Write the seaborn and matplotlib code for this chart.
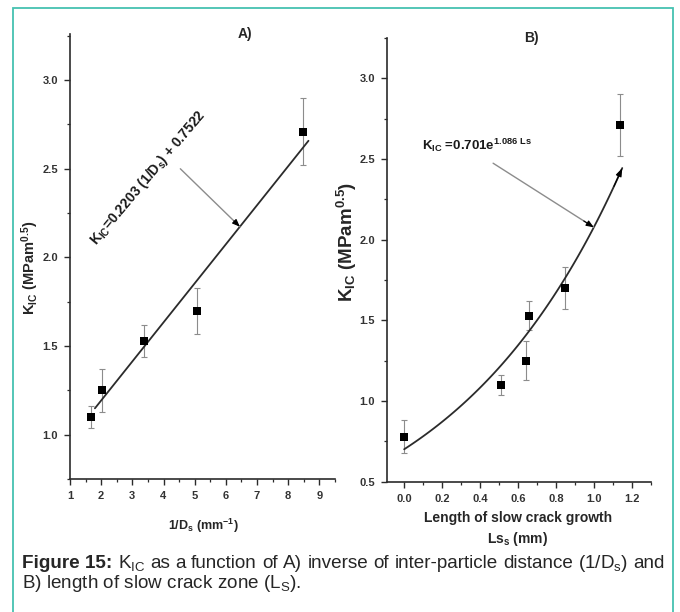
import numpy as np
import matplotlib
matplotlib.use("Agg")
import matplotlib.pyplot as plt
import seaborn as sns
from matplotlib.ticker import MultipleLocator, FormatStrFormatter
from matplotlib.patches import Rectangle

# Panel A: fracture toughness vs inverse inter-particle distance
inv_ds = [1.67, 2.02, 3.36, 5.09, 8.48]
kic_a = [1.10, 1.25, 1.53, 1.70, 2.71]
err_a = [0.06, 0.12, 0.09, 0.13, 0.19]

# Panel B: fracture toughness vs length of slow crack growth
ls = [0.0, 0.51, 0.64, 0.66, 0.85, 1.14]
kic_b = [0.78, 1.10, 1.25, 1.53, 1.70, 2.71]
err_b = [0.10, 0.06, 0.12, 0.09, 0.13, 0.19]

# Fitted models
lin_slope, lin_icpt = 0.2203, 0.7522
exp_pre, exp_rate = 0.701, 1.086

sns.set_style("ticks")
plt.rcParams["font.family"] = ["Liberation Sans", "DejaVu Sans"]
plt.rcParams["mathtext.default"] = "regular"

INK = "#2b2b2b"
ERR = "#8c8c8c"
TEAL = "#45c2b1"

fig = plt.figure(figsize=(6.8, 6.12), dpi=100)
axA = fig.add_axes([0.1029, 0.2173, 0.3897, 0.7271])
axB = fig.add_axes([0.5687, 0.2129, 0.3882, 0.7250])


def style_axis(ax, xmaj, xmin, xfmt):
    sns.despine(ax=ax)
    for side in ("left", "bottom"):
        ax.spines[side].set_linewidth(1.2)
        ax.spines[side].set_color(INK)
    ax.xaxis.set_major_locator(MultipleLocator(xmaj))
    ax.xaxis.set_minor_locator(MultipleLocator(xmin))
    ax.xaxis.set_major_formatter(FormatStrFormatter(xfmt))
    ax.yaxis.set_major_locator(MultipleLocator(0.5))
    ax.yaxis.set_minor_locator(MultipleLocator(0.25))
    ax.yaxis.set_major_formatter(FormatStrFormatter("%.1f"))
    ax.tick_params(which="major", direction="out", length=4.5, width=1,
                   colors=INK, labelsize=8, pad=4)
    ax.tick_params(which="minor", direction="out", length=2.5, width=0.9,
                   colors=INK)
    for lab in ax.get_xticklabels() + ax.get_yticklabels():
        lab.set_fontweight("bold")
        lab.set_color("#333333")


def draw_points(ax, x, y, e):
    ax.errorbar(x, y, yerr=e, fmt="none", ecolor=ERR, elinewidth=0.8,
                capsize=2.5, capthick=0.8, zorder=2)
    sns.scatterplot(x=x, y=y, marker="s", color="black", s=26,
                    edgecolor="black", linewidth=0, ax=ax, zorder=3)


def pointer(ax, start, tip):
    ax.annotate("", xy=tip, xytext=start,
                arrowprops=dict(arrowstyle="-", color=ERR, lw=1.0,
                                shrinkA=0, shrinkB=0))
    head_from = (start[0] + 0.9 * (tip[0] - start[0]),
                 start[1] + 0.9 * (tip[1] - start[1]))
    ax.annotate("", xy=tip, xytext=head_from,
                arrowprops=dict(arrowstyle="-|>,head_length=0.45,head_width=0.18",
                                color="black", lw=0.8, shrinkA=0, shrinkB=0))


# ---- Panel A ----
draw_points(axA, inv_ds, kic_a, err_a)
xa = np.linspace(1.8, 8.65, 50)
sns.lineplot(x=xa, y=lin_slope * xa + lin_icpt, color=INK, lw=1.3, ax=axA,
             zorder=2.5)
axA.set_xlim(1, 9.5)
axA.set_ylim(0.75, 3.26)
style_axis(axA, 1, 0.5, "%d")
axA.set_xlabel("1/D$_s$ (mm$^{-1}$)", fontsize=9, fontweight="bold")
axA.set_ylabel("K$_{IC}$ (MPam$^{0.5}$)", fontsize=10.5, fontweight="bold")
axA.xaxis.set_label_coords(0.502, -0.085)
axA.yaxis.set_label_coords(-0.11, 0.474)
axA.text(0.66, 1.0, "A)", transform=axA.transAxes, ha="center", va="center",
         fontsize=10, fontweight="bold")
axA.text(3.51, 2.45, "K$_{IC}$=0.2203 (1/D$_s$) + 0.7522", rotation=50,
         rotation_mode="anchor", ha="center", va="center", fontsize=10,
         fontweight="bold", color="#1a1a1a")
tip_a = 6.45
pointer(axA, (4.54, 2.50), (tip_a, lin_slope * tip_a + lin_icpt))

# ---- Panel B ----
draw_points(axB, ls, kic_b, err_b)
xb = np.linspace(0.0, 1.15, 80)
yb = exp_pre * np.exp(exp_rate * xb)
sns.lineplot(x=xb, y=yb, color=INK, lw=1.3, ax=axB, zorder=2.5)
axB.annotate("", xy=(xb[-1], yb[-1]), xytext=(xb[-4], yb[-4]),
             arrowprops=dict(arrowstyle="-|>,head_length=0.5,head_width=0.18",
                             color="black", lw=0.8, shrinkA=0, shrinkB=0))
axB.set_xlim(-0.092, 1.3)
axB.set_ylim(0.5, 3.25)
style_axis(axB, 0.2, 0.1, "%.1f")
axB.set_xlabel("Length of slow crack growth\nLs$_s$ (mm)", fontsize=10,
               fontweight="bold", linespacing=1.35)
axB.set_ylabel("K$_{IC}$ (MPam$^{0.5}$)", fontsize=13.5, fontweight="bold")
axB.xaxis.set_label_coords(0.496, -0.066)
axB.yaxis.set_label_coords(-0.106, 0.541)
axB.text(0.549, 1.0, "B)", transform=axB.transAxes, ha="center", va="center",
         fontsize=10, fontweight="bold")
axB.text(0.095, 2.586, "K$_{IC}$ =0.701e$^{1.086\\ Ls}$", ha="left",
         va="center", fontsize=9.5, fontweight="bold", color="#1a1a1a")
tip_b = 1.0
pointer(axB, (0.469, 2.474), (tip_b, exp_pre * np.exp(exp_rate * tip_b)))

# ---- Frame and caption ----
fig.patches.append(Rectangle((13 / 680, -0.05), 660 / 680, 1.05 - 8 / 612,
                             transform=fig.transFigure, fill=False,
                             edgecolor=TEAL, lw=1.3))

cap_size = 13.6
cap_left, cap_right = 22, 665
cap_y1 = 1 - 563 / 612
cap_y2 = 1 - 584 / 612

# First caption line is justified across the full text width
line1 = [("Figure 15:", "bold"), ("K$_{IC}$", "normal"), ("as", "normal"),
         ("a", "normal"), ("function", "normal"), ("of", "normal"),
         ("A)", "normal"), ("inverse", "normal"), ("of", "normal"),
         ("inter-particle", "normal"), ("distance", "normal"),
         ("(1/D$_s$)", "normal"), ("and", "normal")]
renderer = fig.canvas.get_renderer()
words = []
for w, weight in line1:
    t = fig.text(0, cap_y1, w, fontsize=cap_size, fontweight=weight,
                 va="center", ha="left")
    words.append((t, t.get_window_extent(renderer=renderer).width))
total = sum(wd for _, wd in words)
gap = max((cap_right - cap_left - total) / (len(words) - 1), 2.0)
x = cap_left
for t, wd in words:
    t.set_x(x / 680)
    x += wd + gap

fig.text(cap_left / 680, cap_y2, "B) length of slow crack zone (L$_S$).",
         fontsize=cap_size, va="center", ha="left")

fig.savefig("out.png", dpi=100)
